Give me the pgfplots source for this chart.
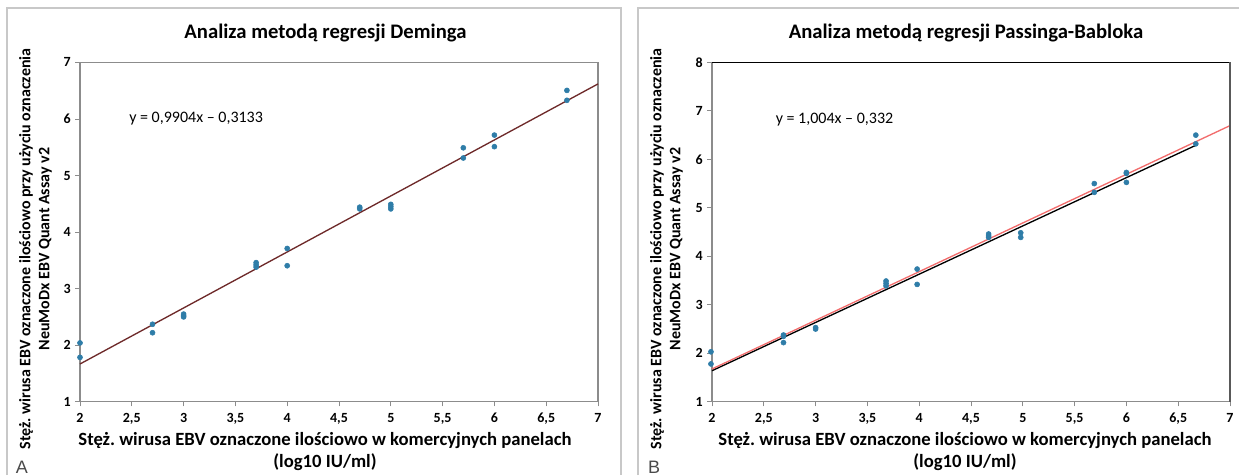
\documentclass[border=0pt]{standalone}
\usepackage{fontspec}
\setmainfont{Carlito}
\newfontfamily\panelfont{Liberation Sans}
\usepackage{pgfplots}
\usepackage{pgfplotstable}
\pgfplotsset{compat=1.18}
\definecolor{axgray}{HTML}{8C8C8C}
\definecolor{framegray}{HTML}{C8C8C8}
\definecolor{ptblue}{HTML}{2F7DA8}
\definecolor{demred}{HTML}{6E2A2A}
\definecolor{pbred}{HTML}{F26D6D}
\definecolor{labgray}{HTML}{4A4A4A}

\newcommand\titlefont{\bfseries\fontsize{15.5}{18}\selectfont}
\newcommand\xlabfont{\bfseries\fontsize{14}{16.5}\selectfont}
\newcommand\ylabfont{\bfseries\fontsize{12}{14.25}\selectfont}
\newcommand\eqfont{\fontsize{12}{14}\selectfont}

% Deming panel (A)
\pgfplotstableread{
x y
2 2.04
2 1.785
2.7 2.37
2.7 2.22
3 2.55
3 2.52
3 2.50
3.7 3.46
3.7 3.42
3.7 3.38
4 3.71
4 3.405
4.7 4.44
4.7 4.41
5 4.49
5 4.45
5 4.41
5.7 5.49
5.7 5.31
6 5.715
6 5.51
6.7 6.505
6.7 6.33
}\demingdata

% Passing-Bablok panel (B)
\pgfplotstableread{
x y
1.99 2.03
1.99 1.78
2.69 2.376
2.69 2.35
2.69 2.22
3 2.53
3 2.50
3.68 3.49
3.68 3.44
3.68 3.39
3.98 3.737
3.98 3.42
4.67 4.46
4.67 4.42
4.67 4.39
4.98 4.485
4.98 4.39
5.69 5.50
5.69 5.32
6 5.73
6 5.71
6 5.525
6.67 6.50
6.67 6.32
}\passingdata

\pgfplotsset{panel/.style={
  scale only axis, width=388.5pt, height=254.5pt,
  xmin=2, xmax=7, ymin=1,
  xtick={2,2.5,3,3.5,4,4.5,5,5.5,6,6.5,7},
  axis line style={draw=axgray,line width=0.8pt},
  tick style={draw=axgray,line width=0.6pt},
  tick align=outside, tick pos=left, major tick length=3.5pt,
  ticklabel style={font=\bfseries\fontsize{10.5}{12}\selectfont},
  xticklabel style={yshift=-1.5pt},
  /pgf/number format/use comma,
  /pgf/number format/assume math mode=true,
  clip=false,
}}

\begin{document}
\frenchspacing
\begin{tikzpicture}
\begin{scope}[x=0.75pt,y=-0.75pt]
  \useasboundingbox (0,0) rectangle (1239,475);
  % panel frames
  \draw[framegray,line width=1.1pt] (7,475) -- (7,8) -- (621,8) -- (621,475);
  \draw[framegray,line width=1.1pt] (638,475) -- (638,8) -- (1245,8);
  % titles
  \node[font=\titlefont] at (325.5,33) {Analiza metodą regresji Deminga};
  \node[font=\titlefont] at (966,33) {Analiza metodą regresji Passinga-Babloka};
  % y labels
  \node[rotate=90,font=\ylabfont,align=center] at (35.5,249)
    {Stęż. wirusa EBV oznaczone ilościowo przy użyciu oznaczenia\\NeuMoDx EBV Quant Assay v2};
  \node[rotate=90,font=\ylabfont,align=center] at (666.5,249)
    {Stęż. wirusa EBV oznaczone ilościowo przy użyciu oznaczenia\\NeuMoDx EBV Quant Assay v2};
  % x labels
  \node[font=\xlabfont,align=center] at (325,452)
    {Stęż. wirusa EBV oznaczone ilościowo w komercyjnych panelach\\(log10 IU/ml)};
  \node[font=\xlabfont,align=center] at (965,452)
    {Stęż. wirusa EBV oznaczone ilościowo w komercyjnych panelach\\(log10 IU/ml)};
  % panel letters
  \node[font=\panelfont\fontsize{13.5}{15}\selectfont,text=labgray,inner sep=0pt,anchor=base] at (22,473.5) {A};
  \node[font=\panelfont\fontsize{13.5}{15}\selectfont,text=labgray,inner sep=0pt,anchor=base] at (654,473.5) {B};
\end{scope}

\begin{axis}[panel, at={(60pt,-301.3pt)}, anchor=south west,
  ymax=7, ytick={1,2,3,4,5,6,7}]
  \addplot[demred,line width=1pt] coordinates {(2,1.6675) (7,6.6195)};
  \addplot[only marks,mark=*,mark size=1.9pt,color=ptblue] table {\demingdata};
  \node[anchor=west,font=\eqfont] at (axis cs:2.43,6.01) {y = 0,9904x – 0,3133};
\end{axis}

\begin{axis}[panel, at={(534pt,-301.3pt)}, anchor=south west,
  ymax=8, ytick={1,2,3,4,5,6,7,8}]
  \addplot[black,line width=1pt] coordinates {(2,1.64) (6.67,6.29)};
  \addplot[pbred,line width=1pt] coordinates {(2,1.676) (7,6.696)};
  \addplot[only marks,mark=*,mark size=1.9pt,color=ptblue] table {\passingdata};
  \node[anchor=west,font=\eqfont] at (axis cs:2.57,6.82) {y = 1,004x – 0,332};
  \draw[black,line width=1.3pt] (rel axis cs:0,1) -- (rel axis cs:1,1);
  \draw[black!65,line width=1.3pt] (rel axis cs:1,1) -- (rel axis cs:1,0);
\end{axis}
\end{tikzpicture}
\end{document}
